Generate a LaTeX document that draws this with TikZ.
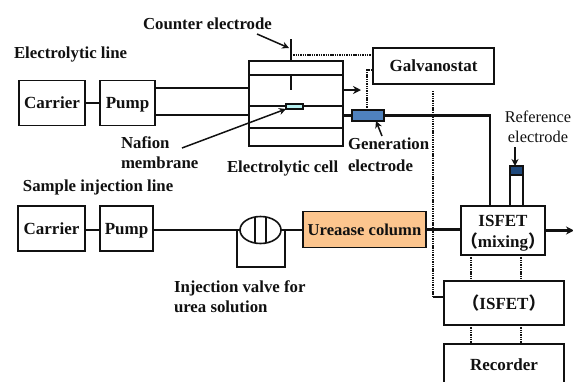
\documentclass[tikz,border=0pt]{standalone}
\usepackage{fontspec}
\setmainfont{Liberation Serif}
\newfontfamily\cjkparen{Noto Sans CJK SC}
\usetikzlibrary{arrows.meta,shapes.geometric}
\definecolor{genblue}{HTML}{4F81BD}
\definecolor{capblue}{HTML}{1F497D}
\definecolor{memcyan}{HTML}{B7F0F0}
\definecolor{colorange}{HTML}{FCC58E}
\definecolor{inkc}{HTML}{111111}
\tikzset{
  box/.style={draw=inkc,line width=1.5pt,rectangle,inner sep=0pt,outer sep=0pt,font=\fontsize{17}{21}\selectfont\bfseries,align=center,text=inkc},
  lbl/.style={inner sep=0pt,outer sep=0pt,font=\fontsize{16.8}{20}\selectfont\bfseries,align=left,text=inkc},
  reflbl/.style={inner sep=0pt,outer sep=0pt,font=\fontsize{16.4}{20}\selectfont,align=center,text=inkc},
  pipe/.style={draw=inkc,line width=2.2pt},
  thin line/.style={draw=inkc,line width=1.5pt},
  sig/.style={draw=inkc,line width=2pt,dash pattern=on 1.4pt off 0.9pt},
  pointer/.style={draw=inkc,line width=1.5pt,-{Stealth[length=7pt,width=7pt]}},
  flow/.style={draw=inkc,line width=2.2pt,-{Stealth[length=8pt,width=8pt]}}
}
\newcommand{\fwl}{{\cjkparen\bfseries （}}
\newcommand{\fwr}{{\cjkparen\bfseries ）}}
\newcommand{\dn}[1]{\raisebox{-5.5pt}[7pt][7pt]{#1}}
\begin{document}
\begin{tikzpicture}[x=1pt,y=-1pt]
\useasboundingbox (0,0) rectangle (573,381);
% upper line
\node[box,minimum width=66pt,minimum height=45pt] (carA) at (52,103) {\dn{Carrier}};
\node[box,minimum width=55pt,minimum height=45pt] (pumpA) at (127.5,103) {\dn{Pump}};
\node[box,minimum width=94pt,minimum height=85pt] (cell) at (296,103.5) {};
\coordinate (cellA) at (249,88);
\coordinate (cellB) at (249,115);
\coordinate (cellOut) at (343,90);
\coordinate (flowEnd) at (361,90);
\coordinate (cellOutB) at (343,115.5);
\draw[pipe] (carA.east) -- (pumpA.west);
\draw[pipe] (pumpA.east |- cellA) -- (cellA);
\draw[pipe] (pumpA.east |- cellB) -- (cellB);
\draw[thin line] (249,75) -- (343,75);
\draw[thin line] (249,106) -- (286,106) (303,106) -- (343,106);
\draw[thin line] (249,128) -- (343,128);
\node[draw=inkc,line width=1.3pt,fill=memcyan,minimum width=17pt,minimum height=5pt,inner sep=0pt,outer sep=0pt] (mem) at (294.5,106.5) {};
\coordinate (ceTop) at (291,39);
\coordinate (ceIn) at (291,75);
\coordinate (ceEnd) at (291,90);
\draw[thin line] (ceTop) -- (cell.north -| ceTop);
\draw[thin line] (ceIn) -- (ceEnd);
\draw[flow] (cellOut) -- (flowEnd);
% galvanostat
\node[box,minimum width=121pt,minimum height=36pt] (galv) at (433.5,66) {\dn{Galvanostat}};
\node[draw=inkc,line width=1.5pt,fill=genblue,minimum width=32pt,minimum height=11pt,inner sep=0pt,outer sep=0pt] (gen) at (368,115.5) {};
\coordinate (ceTap) at (291,55);
\draw[sig] (ceTap) -- (galv.west |- ceTap);
\coordinate (gTap) at (367,70);
\draw[sig] (gen.north -| gTap) -- (gTap) -- (galv.west |- gTap);
\draw[pipe] (cellOutB) -- (gen.west);
% ISFET etc
\node[box,minimum width=82pt,minimum height=49pt] (isf) at (503,230.5) {ISFET\rule{0pt}{16pt}\\\fwl mixing\fwr};
\node[box,minimum width=120pt,minimum height=44pt] (isf2) at (504,303) {\fwl ISFET\fwr};
\node[minimum width=120pt,minimum height=38pt,inner sep=0pt,outer sep=0pt] (rec) at (504,363) {};
\node[inner sep=0pt,font=\fontsize{17}{21}\selectfont\bfseries,text=inkc] (recT) at (504,365) {Recorder};
\draw[thin line] (rec.south west) -- (rec.north west) -- (rec.north east) -- (rec.south east);
\coordinate (bend) at (490,115.5);
\coordinate (isfIn) at (490,206);
\draw[pipe] (gen.east) -- (bend) -- (isfIn);
\coordinate (out) at (574,230.5);
\draw[flow] (isf.east) -- (out);
% sample line
\node[box,minimum width=67pt,minimum height=45pt] (carB) at (51.5,228.5) {\dn{Carrier}};
\node[box,minimum width=53pt,minimum height=45pt] (pumpB) at (126.5,228.5) {\dn{Pump}};
\node[ellipse,draw=inkc,line width=1.6pt,minimum width=41pt,minimum height=27pt,inner sep=0pt,outer sep=0pt] (valve) at (260.5,230) {};
\draw[thin line] (255,217) -- (255,243) (266,217) -- (266,243);
\node[box,fill=colorange,minimum width=123pt,minimum height=36pt,font=\fontsize{16.6}{20}\selectfont\bfseries] (col) at (364.5,229.5) {Ureaase column};
\coordinate (pb) at (153,230);
\draw[pipe] (carB.east |- pb) -- (pumpB.west |- pb);
\draw[pipe] (pb) -- (valve.west);
\draw[pipe] (valve.east) -- (col.west |- valve.east);
\draw[pipe] (col.east) -- (isf.west |- col.east);
\coordinate (loopA) at (237,230);
\coordinate (loopB) at (237,267);
\coordinate (loopC) at (285,267);
\coordinate (loopD) at (285,230);
\draw[pipe] (loopA) -- (loopB) -- (loopC) -- (loopD);
% reference electrode
\node[draw=inkc,line width=1.5pt,minimum width=13pt,minimum height=40pt,inner sep=0pt,outer sep=0pt] (tube) at (516.5,186) {};
\node[draw=inkc,line width=1.5pt,fill=capblue,minimum width=13pt,minimum height=9pt,inner sep=0pt,outer sep=0pt] (cap) at (516.5,170.5) {};
\node[reflbl] (reflabel) at (538,127) {Reference\\electrode};
\coordinate (refStart) at (515,147);
\draw[pointer] (refStart) -- (cap.north -| refStart);
% signal
\coordinate (sigTop) at (433,91);
\coordinate (sigBend) at (433,297);
\draw[sig] (sigTop) -- (sigBend);
\draw[thin line] (sigBend) -- (isf2.west |- sigBend);
\foreach \px in {471,521}{
  \draw[sig] (\px,255) -- (\px,281);
  \draw[sig] (\px,325) -- (\px,344);
}
% labels
\node[lbl,anchor=west] (tCE) at (143,23.5) {Counter electrode};
\node[lbl,anchor=west] (tEL) at (14,54) {Electrolytic line};
\node[lbl,anchor=north west] (tNM) at (121,136.5) {Nafion\\membrane};
\node[lbl,anchor=west] (tEC) at (227,168) {Electrolytic cell};
\node[lbl,anchor=north west,font=\fontsize{16.8}{21.5}\selectfont\bfseries] (tGE) at (348,138) {Generation\\electrode};
\node[lbl,anchor=west] (tSL) at (23,187) {Sample injection line};
\node[lbl,anchor=north west] (tIV) at (174,281) {Injection valve for\\urea solution};
% pointers
\coordinate (cePtr) at (257,34);
\coordinate (ceTip) at (289,48);
\draw[pointer] (cePtr) -- (ceTip);
\coordinate (memPtr) at (182,148);
\draw[pointer] (memPtr) -- (mem.south west);
\coordinate (genPtr) at (382,136);
\coordinate (genTip) at (376,121);
\draw[pointer] (genPtr) -- (genTip);
\end{tikzpicture}
\end{document}
